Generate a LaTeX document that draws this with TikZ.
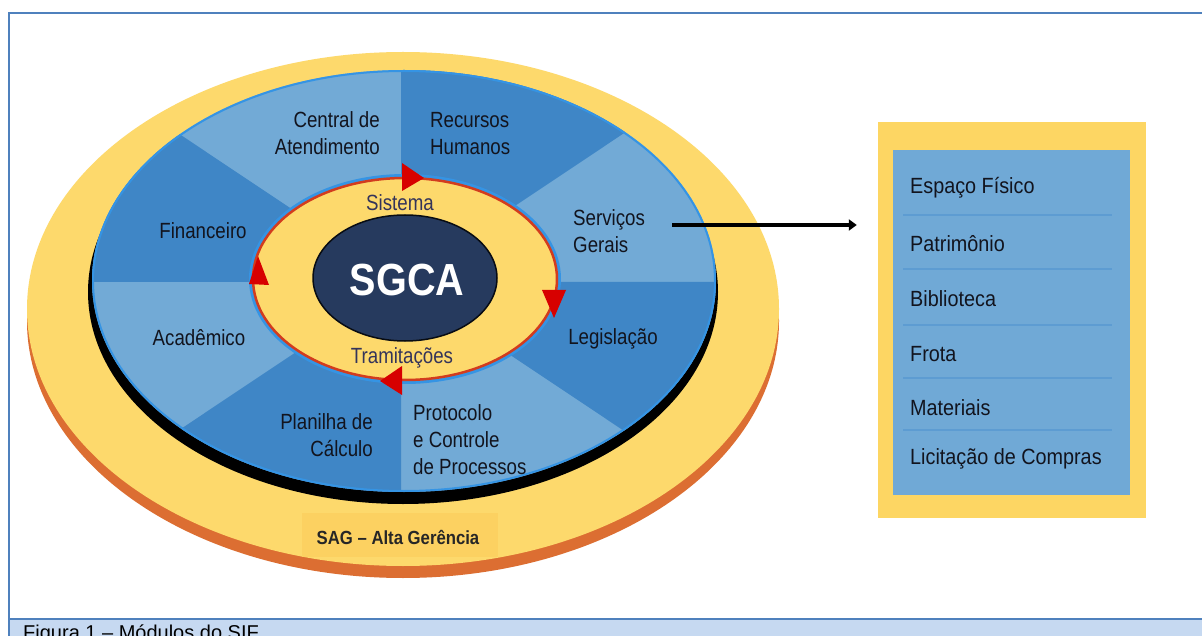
\documentclass[tikz,border=0pt]{standalone}
\usepackage{fontspec}
\usetikzlibrary{shapes.geometric,arrows.meta}
\newfontfamily\nar[FakeStretch=0.85]{Liberation Sans}
\newfontfamily\narb[FakeStretch=0.88]{Liberation Sans}
\newfontfamily\boxf[FakeStretch=0.9]{Liberation Sans}
\newfontfamily\capf{Liberation Sans}
\definecolor{framec}{HTML}{4F81BD}
\definecolor{capfill}{HTML}{C6D9F1}
\definecolor{yel}{HTML}{FDD96C}
\definecolor{sagyel}{HTML}{FCD161}
\definecolor{orng}{HTML}{DC6E32}
\definecolor{bluel}{HTML}{72AAD6}
\definecolor{blued}{HTML}{3F86C6}
\definecolor{rim}{HTML}{3594E4}
\definecolor{ringred}{HTML}{D23C1E}
\definecolor{navy}{HTML}{263A5E}
\definecolor{arrred}{HTML}{D70000}
\definecolor{sistc}{HTML}{34345A}
\definecolor{lblc}{HTML}{12141E}
\definecolor{boxyel}{HTML}{FDD663}
\definecolor{boxblue}{HTML}{70A9D6}
\definecolor{sepc}{HTML}{5D9CD2}
\tikzset{
  lbl/.style={font=\nar\fontsize{22}{27}\selectfont, text=lblc, inner sep=0pt},
  ringlbl/.style={font=\nar\fontsize{22}{27}\selectfont, text=sistc, inner sep=0pt},
  item/.style={font=\boxf\fontsize{22}{27}\selectfont, text=lblc, inner sep=0pt, anchor=west},
  sep/.style={draw=sepc, line width=2pt},
  frame/.style={draw=framec, line width=2pt},
  redtip/.style={fill=arrred},
}
\begin{document}
\begin{tikzpicture}[x=1pt,y=-1pt]
\useasboundingbox (0,0) rectangle (1202,636);
\fill[white] (0,0) rectangle (1202,636);
% frame
\fill[capfill] (9,619) rectangle (1210,640);
\draw[frame] (1210,13) -- (9,13) -- (9,640);
\draw[frame] (9,619) -- (1210,619);
\node[anchor=base west, font=\capf\fontsize{20}{24}\selectfont, inner sep=0pt] (cap) at (23,639) {Figura 1 – Módulos do SIF};
% outer disc
\fill[orng] (403,321) ellipse [x radius=376pt, y radius=257pt];
\fill[yel] (403,309) ellipse [x radius=376pt, y radius=257pt];
% blue disc shadow
\fill[black] (403,292) ellipse [x radius=315pt, y radius=212pt];
\fill[bluel] (404,281) ellipse [x radius=312pt, y radius=211pt];
\begin{scope}
\clip (404,281) ellipse [x radius=312pt, y radius=211pt];
\fill[blued] (401,282) -- (401,0) -- (801,0) -- (801,15) -- cycle;
\fill[blued] (401,282) -- (1,15) -- (1,282) -- cycle;
\fill[blued] (401,282) -- (801,282) -- (801,549) -- cycle;
\fill[blued] (401,282) -- (1,549) -- (1,640) -- (401,640) -- cycle;
\end{scope}
\draw[rim, line width=2pt] (404,281) ellipse [x radius=311pt, y radius=210pt];
% inner ring
\draw[rim, line width=3pt] (405,279) ellipse [x radius=154.5pt, y radius=103.5pt];
\filldraw[fill=yel, draw=ringred, line width=2.5pt] (405,279) ellipse [x radius=152pt, y radius=101pt];
\node[ellipse, fill=navy, draw=black!80!navy, line width=1.5pt, minimum width=184pt, minimum height=126pt, inner sep=0pt] (sgca) at (405,278) {};
\node[font=\narb\fontsize{45}{50}\bfseries\selectfont, text=white, inner sep=0pt] (sgcat) at (407,280) {SGCA};
% red arrowheads
\fill[redtip] (402,163) -- (424,178) -- (402,191) -- cycle;
\fill[redtip] (542,290) -- (566,290) -- (554,318) -- cycle;
\fill[redtip] (402,366) -- (380,381) -- (402,395) -- cycle;
\fill[redtip] (249,284) -- (269,285) -- (258,256) -- cycle;
% ring labels
\node[ringlbl] (sist) at (400,203) {Sistema};
\node[ringlbl] (tram) at (402,358) {Tramitações};
% sector labels
\node[lbl, align=right, anchor=east] (cent) at (380,133) {Central de\\Atendimento};
\node[lbl, align=left, anchor=west] (rh) at (430,134) {Recursos\\Humanos};
\node[lbl] (fin) at (203,231) {Financeiro};
\node[lbl, align=left, anchor=west] (serv) at (573,231) {Serviços\\Gerais};
\node[lbl] (acad) at (199,338) {Acadêmico};
\node[lbl] (leg) at (613,339) {Legislação};
\node[lbl, align=right, anchor=east] (plan) at (373,435) {Planilha de\\Cálculo};
\node[lbl, align=left, anchor=west] (prot) at (413,440) {Protocolo\\e Controle\\de Processos};
% SAG box
\node[fill=sagyel, minimum width=196pt, minimum height=44pt, inner sep=0pt] (sag) at (400,535) {};
\node[font=\narb\fontsize{19}{22}\bfseries\selectfont, text=black!85, inner sep=0pt] (sagt) at (398,537) {SAG – Alta Gerência};
% right box
\node[fill=boxyel, minimum width=268pt, minimum height=396pt, inner sep=0pt] (box) at (1012,320) {};
\node[fill=boxblue, minimum width=237pt, minimum height=345pt, inner sep=0pt] (inbox) at (1011.5,322.5) {};
\foreach \yy in {215,269,325,378,430} {\draw[sep] (903,\yy) -- (1112,\yy);}
\node[item] (i1) at (910,188) {Espaço Físico};
\node[item] (i2) at (910,244) {Patrimônio};
\node[item] (i3) at (910,299) {Biblioteca};
\node[item] (i4) at (910,354) {Frota};
\node[item] (i5) at (910,408) {Materiais};
\node[item] (i6) at (910,459) {Licitação de Compras};
% arrow
\coordinate (arrstart) at (672,225);
\draw[line width=3.5pt, -{Triangle[length=8pt,width=11pt]}, shorten >=21pt] (arrstart) -- (arrstart -| box.west);
\end{tikzpicture}
\end{document}
